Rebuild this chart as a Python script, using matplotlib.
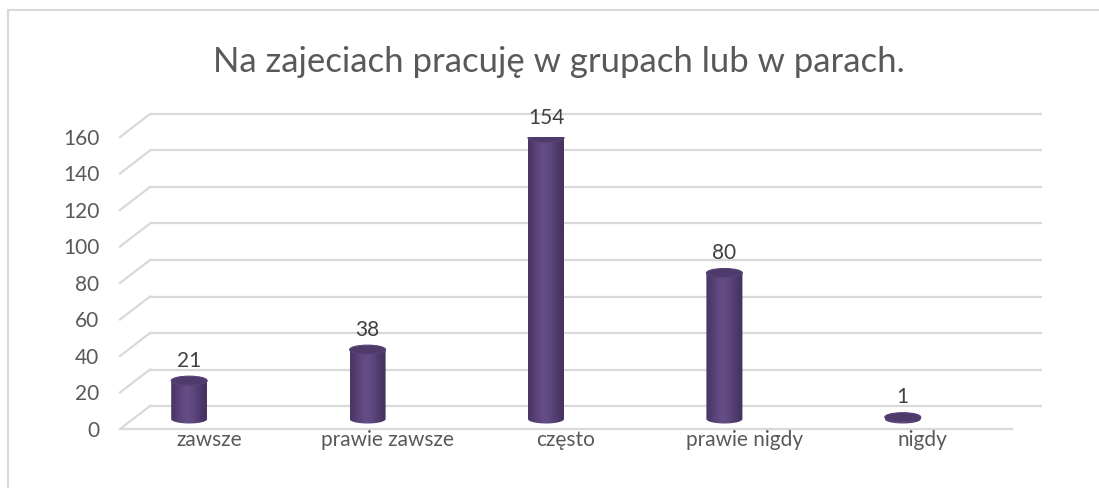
import numpy as np
import matplotlib
matplotlib.use("Agg")
import matplotlib.pyplot as plt
from matplotlib.patches import Polygon, Ellipse
from matplotlib.lines import Line2D

plt.rcParams["font.family"] = ["Lato", "DejaVu Sans"]

categories = ["zawsze", "prawie zawsze", "często", "prawie nigdy", "nigdy"]
values = [21, 38, 154, 80, 1]
yticks = [0, 20, 40, 60, 80, 100, 120, 140, 160]
title = "Na zajeciach pracuję w grupach lub w parach."

GRID = "#d9d9d9"
TEXT = "#595959"

W, H = 1099, 488
fig = plt.figure(figsize=(W / 100, H / 100), dpi=100)

# front plane of the 3d box, in pixels
left, right, bottom, top = 120, 1012, 429, 137
ax = fig.add_axes([left / W, 1 - bottom / H, (right - left) / W, (bottom - top) / H])
ax.set_xlim(-0.5, len(categories) - 0.5)
ax.set_ylim(0, 160)

px_x = (right - left) / len(categories)   # px per x unit
px_y = (bottom - top) / 160               # px per y unit
DX, DY = 30 / px_x, 23 / px_y             # depth of the box
BX, BY = -20 / px_x, 10 / px_y            # bar base offset
BW = 36 / px_x                            # cylinder width
EH = 9 / px_y                             # ellipse height

x0, x1 = -0.5, len(categories) - 0.5
for v in yticks:
    # back wall
    ax.plot([x0 + DX, x1 + DX], [v + DY, v + DY], color=GRID, lw=1.6,
            solid_capstyle="butt", clip_on=False, zorder=1)
    # side wall
    ax.plot([x0, x0 + DX], [v, v + DY], color=GRID, lw=1.6, clip_on=False, zorder=1)
# floor front edge
ax.plot([x0, x1], [0, 0], color=GRID, lw=1.6, clip_on=False, zorder=1)

grad_cols = np.array([
    [0x4a, 0x36, 0x66], [0x56, 0x40, 0x74], [0x5f, 0x48, 0x7f], [0x66, 0x4f, 0x87],
    [0x62, 0x4b, 0x82], [0x59, 0x43, 0x78], [0x4e, 0x3a, 0x6b], [0x46, 0x33, 0x61],
]) / 255.0
grad = grad_cols[np.newaxis, :, :]

for i, v in enumerate(values):
    cx = i + BX
    base = BY
    topv = base + v
    t = np.linspace(np.pi, 2 * np.pi, 40)
    pts = [(cx + BW / 2 * np.cos(a), base + EH / 2 * np.sin(a)) for a in t]
    pts += [(cx + BW / 2, topv), (cx - BW / 2, topv)]
    body = Polygon(pts, closed=True, facecolor="none", edgecolor="none")
    ax.add_patch(body)
    im = ax.imshow(grad, extent=[cx - BW / 2, cx + BW / 2, base - EH, topv + EH],
                   aspect="auto", interpolation="bicubic", zorder=3)
    im.set_clip_path(body)
    ax.add_patch(Ellipse((cx, topv), BW, EH, facecolor="#4f3b6b",
                         edgecolor="#584374", lw=0.8, zorder=4))
    ax.annotate(str(v), (cx, topv), xytext=(0, 10), textcoords="offset points",
                ha="center", va="baseline", fontsize=15, color="#404040", zorder=5)

ax.set_xlim(-0.5, len(categories) - 0.5)
ax.set_ylim(0, 160)
ax.set_xticks(range(len(categories)))
ax.set_xticklabels(categories)
ax.set_yticks(yticks)
ax.tick_params(axis="both", length=0, labelsize=15, colors=TEXT)
ax.tick_params(axis="y", pad=15)
ax.tick_params(axis="x", pad=1)
for s in ax.spines.values():
    s.set_visible(False)
ax.patch.set_visible(False)

fig.text(559 / W, 1 - 62 / H, title, ha="center", va="center", fontsize=25, color=TEXT)

# chart border (left and top edges visible)
fig.add_artist(Line2D([8 / W, 8 / W], [0, 1 - 10 / H], color=GRID, lw=1.5))
fig.add_artist(Line2D([8 / W, 1], [1 - 10 / H, 1 - 10 / H], color=GRID, lw=1.5))

fig.savefig("out.png", dpi=100)
plt.close(fig)
